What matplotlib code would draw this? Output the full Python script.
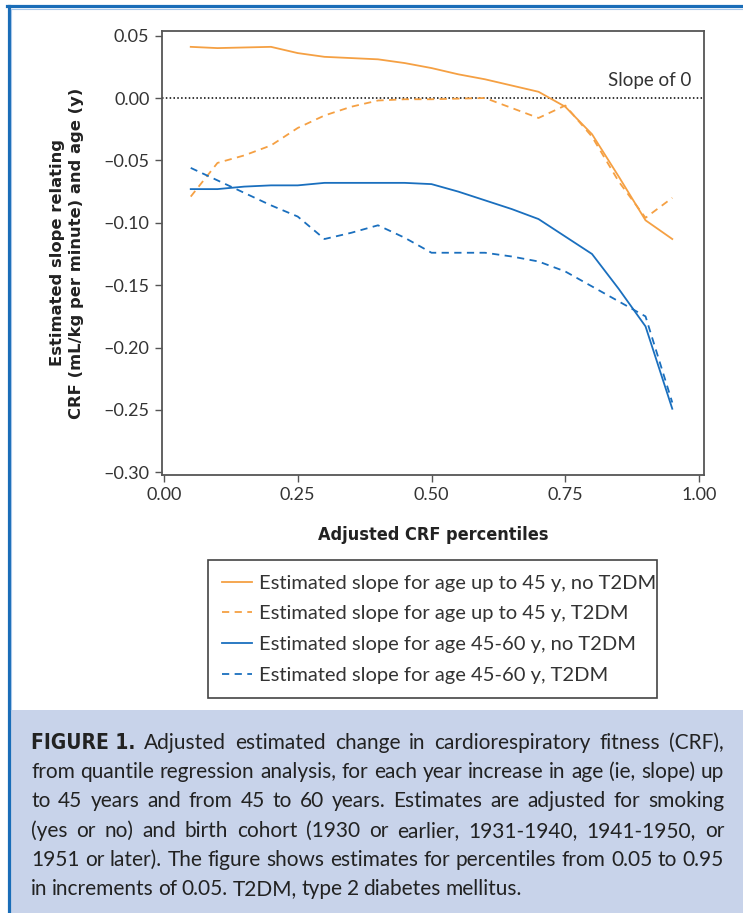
import matplotlib
matplotlib.use("Agg")
import matplotlib.pyplot as plt
from matplotlib.lines import Line2D
from matplotlib.patches import Rectangle

W, H = 743, 913

pct = [0.05, 0.10, 0.15, 0.20, 0.25, 0.30, 0.35, 0.40, 0.45, 0.50,
       0.55, 0.60, 0.65, 0.70, 0.75, 0.80, 0.85, 0.90, 0.95]

young_no_t2dm = [0.041, 0.040, 0.0405, 0.041, 0.036, 0.033, 0.032, 0.031, 0.028, 0.024,
                 0.019, 0.015, 0.010, 0.005, -0.007, -0.029, -0.063, -0.098, -0.113]
young_t2dm = [-0.079, -0.052, -0.046, -0.038, -0.024, -0.014, -0.007, -0.002, -0.001, -0.001,
              -0.0005, 0.000, -0.008, -0.016, -0.006, -0.031, -0.067, -0.096, -0.080]
mid_no_t2dm = [-0.073, -0.073, -0.071, -0.070, -0.070, -0.068, -0.068, -0.068, -0.068, -0.069,
               -0.075, -0.082, -0.089, -0.097, -0.111, -0.125, -0.153, -0.183, -0.249]
mid_t2dm = [-0.056, -0.066, -0.076, -0.086, -0.095, -0.113, -0.108, -0.102, -0.112, -0.124,
            -0.124, -0.124, -0.127, -0.131, -0.139, -0.151, -0.163, -0.175, -0.244]

labels = ["Estimated slope for age up to 45 y, no T2DM",
          "Estimated slope for age up to 45 y, T2DM",
          "Estimated slope for age 45-60 y, no T2DM",
          "Estimated slope for age 45-60 y, T2DM"]

xticks = [0.00, 0.25, 0.50, 0.75, 1.00]
yticks = [0.05, 0.00, -0.05, -0.10, -0.15, -0.20, -0.25, -0.30]

caption_lines = [
    "Adjusted estimated change in cardiorespiratory fitness (CRF),",
    "from quantile regression analysis, for each year increase in age (ie, slope) up",
    "to 45 years and from 45 to 60 years. Estimates are adjusted for smoking",
    "(yes or no) and birth cohort (1930 or earlier, 1931-1940, 1941-1950, or",
    "1951 or later). The figure shows estimates for percentiles from 0.05 to 0.95",
    "in increments of 0.05. T2DM, type 2 diabetes mellitus.",
]

orange = "#f5a043"
blue = "#1a6fbe"
thin = ["Lato", "DejaVu Sans"]
narrow = {"family": "DejaVu Sans", "stretch": "condensed", "weight": "bold"}

fig = plt.figure(figsize=(W / 100, H / 100), dpi=100)


def fx(px):
    return px / W


def fy(py):
    return 1 - py / H


# page frame and caption background
fig.patches.append(Rectangle((fx(10), 0), 1, fy(710), transform=fig.transFigure,
                             facecolor="#c8d3ea", edgecolor="none", zorder=0))
fig.lines.append(Line2D([fx(8.5), fx(8.5)], [0, fy(6.5)], transform=fig.transFigure,
                        color="#1a6db8", lw=2.3))
fig.lines.append(Line2D([fx(7.5), 1], [fy(6.5), fy(6.5)], transform=fig.transFigure,
                        color="#1a6db8", lw=2.3))
fig.lines.append(Line2D([fx(10.5), fx(10.5)], [fy(710), fy(9.5)], transform=fig.transFigure,
                        color="#a9c8ea", lw=0.8))
fig.lines.append(Line2D([fx(10.5), 1], [fy(9.5), fy(9.5)], transform=fig.transFigure,
                        color="#a9c8ea", lw=0.8))

ax = fig.add_axes([fx(162), fy(475), fx(704) - fx(162), fy(31) - fy(475)])

ax.plot(pct, young_no_t2dm, color=orange, lw=1.3, label=labels[0])
ax.plot(pct, young_t2dm, color=orange, lw=1.3, ls=(0, (4, 3)), label=labels[1])
ax.plot(pct, mid_no_t2dm, color=blue, lw=1.3, label=labels[2])
ax.plot(pct, mid_t2dm, color=blue, lw=1.3, ls=(0, (4, 3)), label=labels[3])
ax.axhline(0, color="black", lw=1.1, ls=(0, (1, 1.5)), zorder=1)
ax.text(0.985, 0.007, "Slope of 0", ha="right", va="bottom", fontsize=13.5,
        family=thin, color="#333333")

ax.set_xlim(-0.0037, 1.0093)
ax.set_ylim(-0.3021, 0.0537)
ax.set_xticks(xticks)
ax.set_xticklabels([f"{v:.2f}" for v in xticks])
ax.set_yticks(yticks)
ax.set_yticklabels([f"{v:.2f}".replace("-", "\u2013") for v in yticks])
for lab in ax.get_xticklabels() + ax.get_yticklabels():
    lab.set_family(thin)
    lab.set_fontsize(13)
    lab.set_color("#333333")
ax.tick_params(direction="out", length=5, width=1, color="#555555", pad=4)
for sp in ax.spines.values():
    sp.set_color("#555555")
    sp.set_linewidth(1.3)

ax.set_xlabel("Adjusted CRF percentiles", fontsize=13, color="#222222", labelpad=16,
              **narrow)
fig.text(fx(67), fy(253), "Estimated slope relating\nCRF (mL/kg per minute) and age (y)",
         rotation=90, ha="center", va="center", fontsize=11.8, fontweight="bold",
         family="DejaVu Sans", color="#222222", linespacing=1.4)

leg = ax.legend(loc="upper left", bbox_to_anchor=(fx(208), fy(560), fx(657) - fx(208), 0),
                bbox_transform=fig.transFigure, mode="expand", borderaxespad=0,
                fancybox=False, edgecolor="#444444", framealpha=1, handlelength=1.45,
                handletextpad=0.35, labelspacing=0.68, borderpad=0.72,
                prop={"family": thin, "size": 14.5})
leg.get_frame().set_linewidth(1.2)
for t in leg.get_texts():
    t.set_color("#333333")

# justified caption
fig.canvas.draw()
renderer = fig.canvas.get_renderer()
left_px, right_px = 31, 724
y0, step = 743, 29.2
cap_font = {"family": thin, "size": 15, "color": "#222222"}
for i, line in enumerate(caption_lines):
    y = fy(y0 + i * step)
    words = line.split(" ")
    items = []
    if i == 0:
        items.append(fig.text(0, y, "FIGURE 1.", va="center", size=15,
                              color="#222222", **narrow))
    for w in words:
        items.append(fig.text(0, y, w, va="center", **cap_font))
    widths = [it.get_window_extent(renderer).width for it in items]
    if i == len(caption_lines) - 1:
        gap = 4.5
    else:
        gap = (right_px - left_px - sum(widths)) / (len(items) - 1)
    x = left_px
    for it, w in zip(items, widths):
        it.set_x(fx(x))
        x += w + gap

fig.savefig("out.png", dpi=100)
